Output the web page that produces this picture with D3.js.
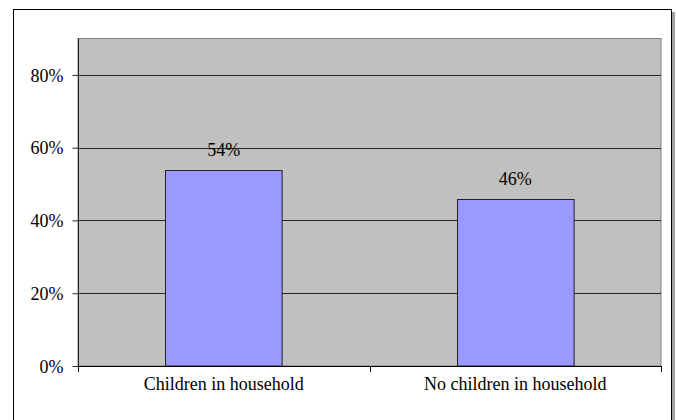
<!DOCTYPE html>
<html>
<head>
<meta charset="utf-8">
<script src="https://cdn.jsdelivr.net/npm/d3@7"></script>
<style>
  html, body { margin: 0; padding: 0; background: #fff; }
  svg { display: block; }
</style>
</head>
<body>
<div id="chart"></div>
<script>
// Data
const categories = ['Children in household', 'No children in household'];
const shares     = [0.54, 0.46];
const yTicks     = [0, 0.2, 0.4, 0.6, 0.8];

const W = 676, H = 420;
const FONT = 'Liberation Serif, Times New Roman, serif';
const FS = 18;
const plot = { left: 78, right: 661, top: 38.5, bottom: 366 };

const svg = d3.select('#chart').append('svg')
    .attr('width', W)
    .attr('height', H)
    .attr('font-family', FONT);

// Outer frame with a little shadow on the right
svg.append('rect')
    .attr('x', 672).attr('y', 12).attr('width', 3).attr('height', H - 12)
    .attr('fill', '#a0a0a0');
svg.append('rect')
    .attr('x', 13.5).attr('y', 9.5).attr('width', 658).attr('height', 420)
    .attr('fill', '#fff').attr('stroke', '#000').attr('stroke-width', 1);

const x = d3.scaleBand()
    .domain(categories)
    .range([plot.left, plot.right])
    .paddingInner(0.6)
    .paddingOuter(0.3);

const y = d3.scaleLinear()
    .domain([0, 0.9])
    .range([plot.bottom, plot.top]);

// Plot area
svg.append('rect')
    .attr('x', plot.left).attr('y', plot.top)
    .attr('width', plot.right - plot.left).attr('height', plot.bottom - plot.top)
    .attr('fill', '#c0c0c0')
    .attr('stroke', '#808080').attr('stroke-width', 1);

// Gridlines
svg.append('g').selectAll('line')
    .data(yTicks.filter(d => d > 0))
    .join('line')
    .attr('x1', plot.left).attr('x2', plot.right)
    .attr('y1', d => Math.round(y(d)) + 0.5).attr('y2', d => Math.round(y(d)) + 0.5)
    .attr('stroke', '#222').attr('stroke-width', 1);

// Bars
svg.append('g').selectAll('rect')
    .data(shares)
    .join('rect')
    .attr('x', (d, i) => Math.round(x(categories[i])) + 0.5)
    .attr('y', d => Math.round(y(d)) + 0.5)
    .attr('width', x.bandwidth())
    .attr('height', d => plot.bottom - Math.round(y(d)) - 0.5)
    .attr('fill', '#9999ff')
    .attr('stroke', '#222').attr('stroke-width', 1);

// Value labels
svg.append('g').selectAll('text')
    .data(shares)
    .join('text')
    .attr('x', (d, i) => x(categories[i]) + x.bandwidth() / 2)
    .attr('y', d => y(d) - 14)
    .attr('text-anchor', 'middle')
    .style('font-family', FONT)
    .attr('font-size', FS)
    .attr('fill', '#000')
    .text(d => d3.format('.0%')(d));

// Y axis
const yAxis = svg.append('g')
    .attr('transform', `translate(${plot.left + 0.5},0)`)
    .call(d3.axisLeft(y).tickValues(yTicks).tickFormat(d3.format('.0%')).tickSize(6).tickPadding(9))
    .attr('font-size', FS);
yAxis.select('.domain').attr('stroke', '#222').attr('d', `M0,${plot.top}V${plot.bottom}`);
yAxis.selectAll('.tick line').attr('stroke', '#222');
yAxis.selectAll('.tick text').attr('fill', '#000').attr('dy', '0.35em').style('font-family', FONT);

// X axis: ticks sit between categories
svg.append('line')
    .attr('x1', plot.left).attr('x2', plot.right)
    .attr('y1', plot.bottom + 0.5).attr('y2', plot.bottom + 0.5)
    .attr('stroke', '#000');
const step = (plot.right - plot.left) / categories.length;
svg.append('g').selectAll('line')
    .data(d3.range(categories.length + 1))
    .join('line')
    .attr('x1', i => Math.round(plot.left + i * step) + 0.5)
    .attr('x2', i => Math.round(plot.left + i * step) + 0.5)
    .attr('y1', plot.bottom).attr('y2', plot.bottom + 6)
    .attr('stroke', '#000');

svg.append('g').selectAll('text')
    .data(categories)
    .join('text')
    .attr('x', d => x(d) + x.bandwidth() / 2)
    .attr('y', 390)
    .attr('text-anchor', 'middle')
    .style('font-family', FONT)
    .attr('font-size', FS)
    .attr('fill', '#000')
    .text(d => d);
</script>
</body>
</html>
